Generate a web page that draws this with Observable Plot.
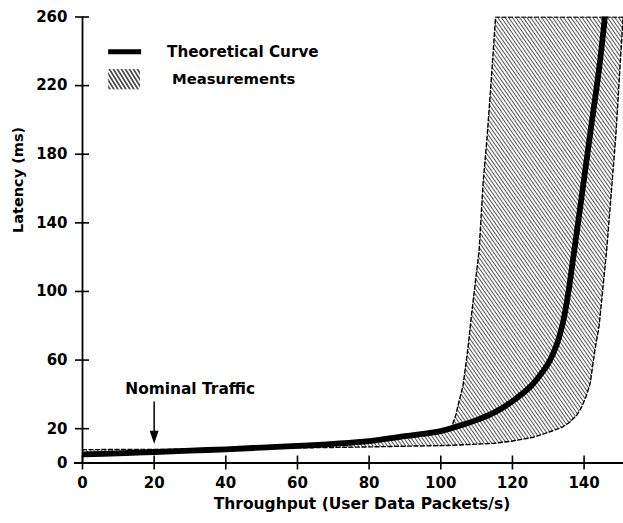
<!DOCTYPE html>
<html><head><meta charset="utf-8">
<script src="https://cdn.jsdelivr.net/npm/d3@7"></script>
<script src="https://cdn.jsdelivr.net/npm/@observablehq/plot@0.6"></script>
<style>
body{margin:0;background:#fff}
#chart svg{font-family:"DejaVu Sans",sans-serif;font-weight:bold}
</style>
</head><body><div id="chart"></div>
<script>
// Theoretical curve: throughput (packets/s) vs latency (ms)
const curveX = [0, 10, 20, 30, 40, 50, 60, 70, 80, 90, 100, 105, 110, 115, 120, 125, 128, 130, 132, 134, 135.5, 137, 139.3, 141.7, 144.2, 145.8];
const curveY = [5, 5.6, 6.4, 7.2, 8, 9, 10, 11.2, 12.8, 15.7, 18.6, 21.6, 25, 29.5, 36, 44.5, 52, 58, 67, 81, 98, 120, 155, 192, 230, 260];
// Measurements: lower / right boundary
const lowerX = [0, 20, 40, 60, 78, 90, 102, 115, 120, 125.8, 128, 131.4, 134, 136, 138, 139.3, 140.5, 141.7, 143, 144.2, 144.9, 146.3, 147.5, 148.9, 150, 150.9];
const lowerY = [7.8, 7.9, 8.3, 8.8, 9.3, 9.8, 10.2, 11.5, 12.8, 15, 16.5, 18.9, 21, 23.8, 28, 32.5, 38.5, 46.3, 65.5, 80, 94.6, 124, 155, 192, 230, 260];
// Measurements: upper / left boundary (from the top down to where it meets the curve)
const upperX = [150.9, 115.3, 114, 113, 111.8, 110.7, 109.6, 108.5, 107.5, 106.2, 105.1, 104.2, 103.2];
const upperY = [260, 260, 221, 192, 163, 124, 104.5, 85, 65.5, 45, 36, 28, 22];
const xTicks = [0, 20, 40, 60, 80, 100, 120, 140];
const yTicks = [0, 20, 60, 100, 140, 180, 220, 260];
const legendLabels = ["Theoretical Curve", "Measurements"];
const nominal = {x: 20, label: "Nominal Traffic"};

const curve = curveX.map((x, i) => ({x, y: curveY[i]}));
const lower = lowerX.map((x, i) => ({x, y: lowerY[i]}));
const upper = upperX.map((x, i) => ({x, y: upperY[i]}));
const curveBack = curve.filter(d => d.x <= 103.2).reverse();
const region = [...lower, ...upper, ...curveBack];

const plot = Plot.plot({
  width: 623, height: 523,
  marginLeft: 82, marginRight: 0, marginTop: 16.5, marginBottom: 60.5,
  style: {fontFamily: "DejaVu Sans", fontWeight: "bold", fontSize: "15px", color: "black", background: "white"},
  x: {domain: [0, 151], axis: null},
  y: {domain: [0, 260], axis: null},
  marks: [
    Plot.line(region, {x: "x", y: "y", fill: "url(#hatch)", stroke: "none", clip: true}),
    Plot.line(lower, {x: "x", y: "y", stroke: "black", strokeWidth: 1.4, strokeDasharray: "4,2.5", clip: true}),
    Plot.line(upper, {x: "x", y: "y", stroke: "black", strokeWidth: 1.4, strokeDasharray: "4,2.5", clip: true}),
    Plot.line(curve, {x: "x", y: "y", stroke: "black", strokeWidth: 5.8, curve: "catmull-rom", clip: true}),
    // axes
    Plot.ruleY([0], {stroke: "black", strokeWidth: 1.8, insetLeft: -8}),
    Plot.ruleX([0], {stroke: "black", strokeWidth: 1.8}),
    Plot.ruleX(xTicks, {x: d => d, y1: 0, y2: 0, insetTop: 7, insetBottom: 7, stroke: "black", strokeWidth: 1.6}),
    Plot.ruleY(yTicks, {y: d => d, x1: 0, x2: 0, insetLeft: -7, insetRight: -7, stroke: "black", strokeWidth: 1.6}),
    Plot.text(xTicks, {x: d => d, y: 0, text: d => String(d), dy: 20, lineAnchor: "middle", fontSize: 15}),
    Plot.text(yTicks, {x: 0, y: d => d, text: d => String(d), dx: -15, textAnchor: "end", lineAnchor: "middle", fontSize: 15}),
    Plot.text(["Latency (ms)"], {frameAnchor: "left", dx: -64, dy: -7, rotate: -90, fontSize: 14.5}),
    Plot.text(["Throughput (User Data Packets/s)"], {frameAnchor: "bottom", dx: 9, dy: 46, fontSize: 15.5}),
    // nominal traffic annotation
    Plot.ruleX([nominal], {x: "x", y1: 35.5, y2: 16, stroke: "black", strokeWidth: 1.5}),
    Plot.vector([nominal], {x: "x", y: 11.2, rotate: 180, length: 13, r: 4.5, shape: "spike", anchor: "end", fill: "black", stroke: "none"}),
    Plot.text([nominal], {x: "x", y: 43, text: "label", dx: 36, lineAnchor: "middle", fontSize: 15.4}),
    // legend
    Plot.ruleY([239.7], {x1: 7.3, x2: 16.5, stroke: "black", strokeWidth: 5}),
    Plot.rect([legendLabels[1]], {x1: 7.3, x2: 16.2, y1: 217.5, y2: 229.4, fill: "url(#hatchL)"}),
    Plot.text([legendLabels[0]], {x: 23.6, y: 239.7, textAnchor: "start", lineAnchor: "middle", fontSize: 15.2}),
    Plot.text([legendLabels[1]], {x: 25, y: 224, textAnchor: "start", lineAnchor: "middle", fontSize: 14.8})
  ]
});

const ns = "http://www.w3.org/2000/svg";
const defs = document.createElementNS(ns, "defs");
defs.innerHTML = `
<pattern id="hatch" patternUnits="userSpaceOnUse" width="3" height="10" patternTransform="rotate(-35)">
  <line x1="1.5" y1="0" x2="1.5" y2="10" stroke="#555" stroke-width="1.05"/>
</pattern>
<pattern id="hatchL" patternUnits="userSpaceOnUse" width="3.4" height="10" patternTransform="rotate(-32)">
  <line x1="1.7" y1="0" x2="1.7" y2="10" stroke="#222" stroke-width="1.4"/>
</pattern>`;
plot.insertBefore(defs, plot.firstChild);
document.getElementById("chart").appendChild(plot);
</script>
</body></html>
